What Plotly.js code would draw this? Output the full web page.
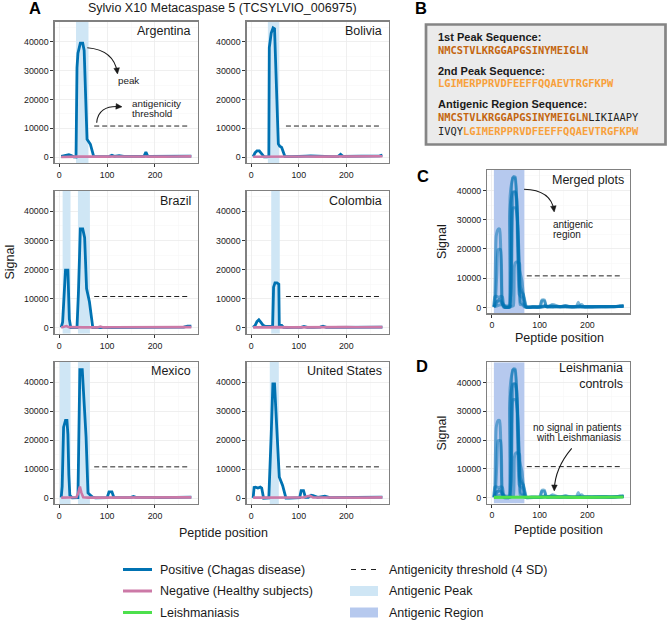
<!DOCTYPE html>
<html><head><meta charset="utf-8">
<script src="https://cdn.plot.ly/plotly-3.0.1.min.js"></script>
<style>html,body{margin:0;padding:0;background:#fff}#chart{width:667px;height:620px}</style>
</head><body><div id="chart"></div>
<script>
// ---------------- DATA ----------------
const countries = ['Argentina', 'Bolivia', 'Brazil', 'Colombia', 'Mexico', 'United States'];

const argPosX = [4, 10, 15, 20, 25, 30, 35, 37, 39, 44, 49, 52, 58, 62, 65, 72, 80, 95, 105, 110, 115, 125, 135, 150, 165, 177, 181, 185, 200, 220, 240, 260, 276];
const argPosY = [300, 500, 800, 900, 600, 150, 100, 31000, 36000, 39500, 39500, 37000, 6200, 5000, 4500, 200, 150, 200, 300, 700, 300, 500, 300, 200, 300, 300, 1800, 300, 300, 300, 300, 300, 400];
const argNegX = [4, 20, 40, 60, 80, 100, 120, 140, 160, 180, 200, 220, 240, 260, 276];
const argNegY = [100, 250, 200, 250, 150, 200, 250, 200, 150, 200, 250, 200, 250, 200, 300];

const bolPosX = [4, 8, 12, 17, 22, 27, 33, 37, 38, 42, 46, 49, 57, 60, 64, 71, 85, 100, 115, 125, 135, 150, 170, 183, 188, 193, 215, 240, 260, 270, 276];
const bolPosY = [200, 1500, 2200, 2200, 1200, 100, 100, 200, 38000, 43000, 44800, 44500, 4600, 3800, 3400, 200, 200, 200, 400, 500, 400, 300, 200, 300, 1000, 300, 300, 300, 300, 500, 700];
const bolNegX = [4, 20, 40, 60, 80, 100, 120, 140, 160, 180, 200, 220, 240, 260, 276];
const bolNegY = [150, 200, 250, 200, 150, 200, 250, 200, 200, 150, 200, 250, 200, 250, 350];

const braPosX = [4, 7, 10, 13, 18, 21, 24, 30, 37, 40, 44, 49, 53, 57, 63, 70, 80, 86, 95, 110, 125, 140, 160, 180, 200, 220, 240, 260, 268, 276];
const braPosY = [200, 2000, 11000, 19800, 19800, 3000, 100, 0, 100, 12000, 34000, 34000, 31000, 13500, 9000, 100, 100, 200, 100, 200, 300, 200, 200, 200, 150, 200, 200, 300, 600, 600];
const braNegX = [4, 10, 15, 20, 30, 50, 70, 80, 86, 92, 110, 140, 170, 200, 230, 260, 276];
const braNegY = [200, 400, 650, 300, 200, 200, 200, 200, 500, 200, 250, 300, 200, 250, 200, 250, 300];

const colPosX = [4, 8, 12, 16, 20, 25, 30, 36, 42, 45, 47, 50, 54, 58, 59, 64, 68, 75, 90, 105, 111, 118, 130, 145, 151, 158, 170, 190, 210, 230, 250, 265, 276];
const colPosY = [200, 800, 2200, 2800, 2000, 900, 500, 500, 400, 600, 14000, 15500, 15500, 15000, 1000, 900, 200, 100, 200, 200, 500, 200, 200, 300, 600, 200, 200, 200, 200, 300, 200, 300, 300];
const colNegX = [4, 20, 40, 60, 80, 100, 120, 140, 160, 180, 200, 220, 240, 260, 276];
const colNegY = [200, 300, 250, 300, 200, 250, 300, 250, 200, 250, 300, 250, 200, 250, 300];

const mexPosX = [4, 6, 9, 13, 16, 18, 20, 22, 27, 33, 39, 43, 48, 56, 60, 64, 70, 76, 90, 100, 104, 110, 114, 120, 135, 150, 155, 160, 175, 180, 190, 210, 230, 250, 265, 276];
const mexPosY = [300, 4000, 24500, 26800, 26800, 22000, 8000, 1000, 100, 100, 200, 44300, 44300, 21000, 1800, 1200, 300, 100, 100, 200, 2200, 2200, 300, 200, 200, 300, 600, 300, 300, 500, 300, 200, 200, 200, 300, 400];
const mexNegX = [4, 20, 36, 40, 43, 46, 50, 60, 80, 100, 120, 140, 160, 180, 200, 220, 240, 260, 276];
const mexNegY = [200, 250, 300, 2000, 4000, 2000, 300, 200, 200, 250, 200, 250, 200, 300, 200, 250, 200, 250, 300];

const usaPosX = [4, 6, 9, 14, 19, 22, 26, 32, 37, 42, 45.5, 49, 56.5, 59, 66, 73, 80, 95, 102, 105, 110, 114, 120, 126, 130, 140, 150, 155, 165, 180, 200, 220, 240, 260, 276];
const usaPosY = [100, 3700, 3800, 3500, 3800, 3500, 0, 0, 100, 22000, 39400, 39400, 16500, 7300, 4400, 0, 0, 100, 200, 2600, 2600, 300, 300, 1000, 900, 300, 400, 700, 200, 200, 200, 200, 300, 300, 400];
const usaNegX = [4, 30, 60, 90, 110, 118, 124, 130, 150, 180, 210, 240, 276];
const usaNegY = [200, 200, 250, 200, 250, 700, 800, 300, 250, 200, 250, 200, 300];

const leiX = [4, 30, 60, 90, 120, 150, 180, 210, 240, 276];
const leiY = [150, 200, 150, 200, 250, 200, 150, 200, 200, 250];

const argPeaks = [[35, 61]];
const bolPeaks = [[35, 59]];
const braPeaks = [[7, 23.5], [39, 64]];
const colPeaks = [[42, 60]];
const mexPeaks = [[1, 23.5], [39, 64]];
const usaPeaks = [[39, 58]];
const antigenicRegion = [4, 68];

const thresholdX = [73, 270];
const thresholdY = 10800;

const xTickVals = [0, 100, 200];
const xTickText = ['0', '100', '200'];
const xMinorVals = [50, 150, 250];
const yTickVals = [0, 10000, 20000, 30000, 40000];
const yTickText = ['0', '10000', '20000', '30000', '40000'];
const yMinorVals = [5000, 15000, 25000, 35000, 45000];

const seqPeak1 = 'NMCSTVLKRGGAPGSINYMEIGLN';
const seqPeak2 = 'LGIMERPPRVDFEEFFQQAEVTRGFKPW';
const seqLinker1 = 'LIKIAAPY';
const seqLinker2 = 'IVQY';

// ---------------- STYLE / LAYOUT ----------------
const W = 667, H = 620;
const PX = v => v / W;
const PY = v => 1 - v / H;
const F = 'Liberation Sans, Arial, Helvetica, sans-serif';
const MONO = 'DejaVu Sans Mono, monospace';
const BLUE = '#0072B2', PINK = '#CC79A7', GREEN = '#4DE04D';
const PEAKFILL = '#CFE6F5', REGIONFILL = '#B6C9EE';
const DARKOR = '#C4660F', LIGHTOR = '#F8A03A';
const TXT = '#1a1a1a';

const xDom = {c1: [54.5, 197.8], c2: [246.5, 388.8], c3: [487.2, 630]};
const yDom = {r1: [21.5, 163], r2: [191, 333.8], r3: [361.8, 504], rc: [170, 313.3], rd: [362.3, 503.5]};
const xRange = [-10, 289.5];
const yRange = [-2000, 47000];

const posX = [argPosX, bolPosX, braPosX, colPosX, mexPosX, usaPosX];
const posY = [argPosY, bolPosY, braPosY, colPosY, mexPosY, usaPosY];
const negX = [argNegX, bolNegX, braNegX, colNegX, mexNegX, usaNegX];
const negY = [argNegY, bolNegY, braNegY, colNegY, mexNegY, usaNegY];
const peaks = [argPeaks, bolPeaks, braPeaks, colPeaks, mexPeaks, usaPeaks];
const cellX = ['c1', 'c2', 'c1', 'c2', 'c1', 'c2'];
const cellY = ['r1', 'r1', 'r2', 'r2', 'r3', 'r3'];

const data = [];
const layout = {
  width: W, height: H, margin: {l: 0, r: 0, t: 0, b: 0},
  paper_bgcolor: '#fff', plot_bgcolor: '#fff', showlegend: false,
  shapes: [], annotations: [], font: {family: F, color: TXT}
};

function axes(i, xd, yd) {
  const s = i === 1 ? '' : String(i);
  const common = {
    showline: true, mirror: true, linecolor: '#808080', linewidth: 1.2,
    showgrid: true, gridcolor: '#EBEBEB', gridwidth: 0.8, zeroline: false,
    ticks: 'outside', ticklen: 3, tickwidth: 1, tickcolor: '#333',
    tickfont: {family: F, size: 8.8, color: TXT}, fixedrange: true, tickmode: 'array'
  };
  layout['xaxis' + s] = Object.assign({}, common, {
    domain: [PX(xd[0]), PX(xd[1])], anchor: 'y' + s, range: xRange,
    tickvals: xTickVals, ticktext: xTickText,
    minor: {tickmode: 'array', tickvals: xMinorVals, showgrid: true, gridcolor: '#F6F6F6', gridwidth: 0.6, ticks: ''}
  });
  layout['yaxis' + s] = Object.assign({}, common, {
    domain: [PY(yd[1]), PY(yd[0])], anchor: 'x' + s, range: yRange,
    tickvals: yTickVals, ticktext: yTickText,
    minor: {tickmode: 'array', tickvals: yMinorVals, showgrid: true, gridcolor: '#F6F6F6', gridwidth: 0.6, ticks: ''}
  });
  return {xa: 'x' + s, ya: 'y' + s};
}

function ann(text, x, y, opts) {
  layout.annotations.push(Object.assign({
    text: text, x: PX(x), y: PY(y), xref: 'paper', yref: 'paper', showarrow: false,
    xanchor: 'center', yanchor: 'middle', font: {family: F, size: 12.5, color: TXT}
  }, opts || {}));
}

// shaded band drawn as a filled trace (above gridlines, below curves)
function band(a, x0, x1, color) {
  data.push({x: [x0, x1, x1, x0, x0], y: [yRange[0], yRange[0], yRange[1], yRange[1], yRange[0]],
    xaxis: a.xa, yaxis: a.ya, mode: 'lines', fill: 'toself', fillcolor: color, line: {width: 0, color: color},
    hoverinfo: 'skip'});
}

function threshold(a) {
  data.push({x: thresholdX, y: [thresholdY, thresholdY], xaxis: a.xa, yaxis: a.ya, mode: 'lines',
    line: {color: '#222', width: 1, dash: '5px,3px'}, hoverinfo: 'skip'});
}

// country panels
for (let k = 0; k < 6; k++) {
  const i = k + 1;
  const xd = xDom[cellX[k]], yd = yDom[cellY[k]];
  const a = axes(i, xd, yd);
  peaks[k].forEach(p => band(a, p[0], p[1], PEAKFILL));
  threshold(a);
  data.push({x: posX[k], y: posY[k], xaxis: a.xa, yaxis: a.ya, mode: 'lines', line: {color: BLUE, width: 2.8}});
  data.push({x: negX[k], y: negY[k], xaxis: a.xa, yaxis: a.ya, mode: 'lines', line: {color: PINK, width: 2.6}});
  ann(countries[k], xd[1] - 5, yd[0] + 9.5, {xanchor: 'right'});
}

// merged panels C and D
[7, 8].forEach(i => {
  const yd = i === 7 ? yDom.rc : yDom.rd;
  const a = axes(i, xDom.c3, yd);
  band(a, antigenicRegion[0], antigenicRegion[1], REGIONFILL);
  threshold(a);
  for (let k = 0; k < 6; k++) {
    data.push({x: posX[k], y: posY[k], xaxis: a.xa, yaxis: a.ya, mode: 'lines',
      line: {color: 'rgba(0,114,178,0.5)', width: 3, shape: 'spline', smoothing: 0.5}});
  }
  if (i === 8) {
    data.push({x: leiX, y: leiY, xaxis: a.xa, yaxis: a.ya, mode: 'lines', line: {color: GREEN, width: 3.2}});
  }
});
ann('Merged plots', 625.5, 180, {xanchor: 'right'});
ann('Leishmania<br>controls', 625, 376, {xanchor: 'right', align: 'right'});

// titles and labels
ann('Sylvio X10 Metacaspase 5 (TCSYLVIO_006975)', 222, 8);
ann('<b>A</b>', 35, 8, {font: {family: F, size: 16.5, color: '#000'}});
ann('<b>B</b>', 421, 8, {font: {family: F, size: 16.5, color: '#000'}});
ann('<b>C</b>', 423, 175.5, {font: {family: F, size: 16.5, color: '#000'}});
ann('<b>D</b>', 422, 366, {font: {family: F, size: 16.5, color: '#000'}});
ann('Signal', 9.5, 262, {textangle: -90});
ann('Peptide position', 223, 533);
ann('Signal', 441.5, 241.5, {textangle: -90});
ann('Peptide position', 559.5, 338);
ann('Signal', 441.5, 433, {textangle: -90});
ann('Peptide position', 558.5, 529.5);

// Panel B box
layout.shapes.push({type: 'rect', xref: 'paper', yref: 'paper', x0: PX(426), x1: PX(665.5), y0: PY(144.5), y1: PY(24.5),
  fillcolor: '#EBEBEB', line: {color: '#858585', width: 2.7}, layer: 'below'});
const bx = 436;
const hf = {family: F, size: 11, color: TXT};
const mf = c => ({family: MONO, size: 10.4, color: c});
ann('<b>1st Peak Sequence:</b>', bx, 36.7, {xanchor: 'left', font: hf});
ann('<b>' + seqPeak1 + '</b>', bx, 50, {xanchor: 'left', font: mf(DARKOR)});
ann('<b>2nd Peak Sequence:</b>', bx, 71, {xanchor: 'left', font: hf});
ann('<b>' + seqPeak2 + '</b>', bx, 82.7, {xanchor: 'left', font: mf(LIGHTOR)});
ann('<b>Antigenic Region Sequence:</b>', bx, 104, {xanchor: 'left', font: hf});
ann('<b><span style="color:' + DARKOR + '">' + seqPeak1 + '</span></b><span style="color:#222">' + seqLinker1 + '</span>',
  bx, 116.7, {xanchor: 'left', font: mf('#222')});
ann('<span style="color:#222">' + seqLinker2 + '</span><b><span style="color:' + LIGHTOR + '">' + seqPeak2 + '</span></b>',
  bx, 131, {xanchor: 'left', font: mf('#222')});

// curved annotation arrows
const P = (x, y) => PX(x) + ',' + PY(y);
function arrow(x0, y0, cx, cy, x1, y1) {
  layout.shapes.push({type: 'path', xref: 'paper', yref: 'paper',
    path: 'M' + P(x0, y0) + ' Q' + P(cx, cy) + ' ' + P(x1, y1), line: {color: TXT, width: 1.1}});
  const dx = x1 - cx, dy = y1 - cy, L = Math.hypot(dx, dy), ux = dx / L, uy = dy / L;
  const s = 6, w = 2.8;
  const tx = x1 + ux * 1.5, ty = y1 + uy * 1.5;
  const bxp = tx - ux * s, byp = ty - uy * s;
  layout.shapes.push({type: 'path', xref: 'paper', yref: 'paper',
    path: 'M' + P(tx, ty) + ' L' + P(bxp - uy * w, byp + ux * w) + ' L' + P(bxp + uy * w, byp - ux * w) + ' Z',
    fillcolor: TXT, line: {color: TXT, width: 0.5}});
}
const af = {family: F, size: 9.8, color: TXT};
arrow(87.3, 47.7, 114, 50, 117.3, 72.5);
ann('peak', 116, 80.7, {xanchor: 'left', font: af});
arrow(96.7, 122.7, 98, 105, 120.5, 106.7);
ann('antigenicity', 129.5, 103.3, {xanchor: 'left', font: af});
ann('threshold', 129.5, 113.5, {xanchor: 'left', font: af});
arrow(524, 189.3, 551, 190, 554, 210.5);
ann('antigenic', 551, 224, {xanchor: 'left', font: {family: F, size: 10, color: TXT}});
ann('region', 551, 234.5, {xanchor: 'left', font: {family: F, size: 10, color: TXT}});
arrow(571.7, 448.3, 555, 468, 554.3, 489.5);
ann('no signal in patients', 623, 427.3, {xanchor: 'right', font: {family: F, size: 10, color: TXT}});
ann('with Leishmaniasis', 623, 437.5, {xanchor: 'right', font: {family: F, size: 10, color: TXT}});

// legend (manual, two columns)
const legRows = [569.5, 591, 612.5];
function legLine(x0, x1, y, color, dash) {
  layout.shapes.push({type: 'line', xref: 'paper', yref: 'paper', x0: PX(x0), x1: PX(x1), y0: PY(y), y1: PY(y),
    line: {color: color, width: dash ? 1.1 : 3, dash: dash || 'solid'}});
}
function legRect(x0, x1, y, color) {
  layout.shapes.push({type: 'rect', xref: 'paper', yref: 'paper', x0: PX(x0), x1: PX(x1), y0: PY(y + 5), y1: PY(y - 5),
    fillcolor: color, line: {width: 0}});
}
legLine(123, 152, legRows[0], BLUE);
legLine(123, 152, legRows[1], PINK);
legLine(123, 152, legRows[2], GREEN);
ann('Positive (Chagas disease)', 158, legRows[0], {xanchor: 'left'});
ann('Negative (Healthy subjects)', 158, legRows[1], {xanchor: 'left'});
ann('Leishmaniasis', 158, legRows[2], {xanchor: 'left'});
legLine(351, 377, legRows[0], '#222', '5px,5px');
legRect(350, 378, legRows[1], PEAKFILL);
legRect(350, 378, legRows[2], REGIONFILL);
ann('Antigenicity threshold (4 SD)', 387, legRows[0], {xanchor: 'left'});
ann('Antigenic Peak', 387, legRows[1], {xanchor: 'left'});
ann('Antigenic Region', 387, legRows[2], {xanchor: 'left'});

Plotly.newPlot('chart', data, layout, {staticPlot: true, displayModeBar: false});
</script>
</body></html>
